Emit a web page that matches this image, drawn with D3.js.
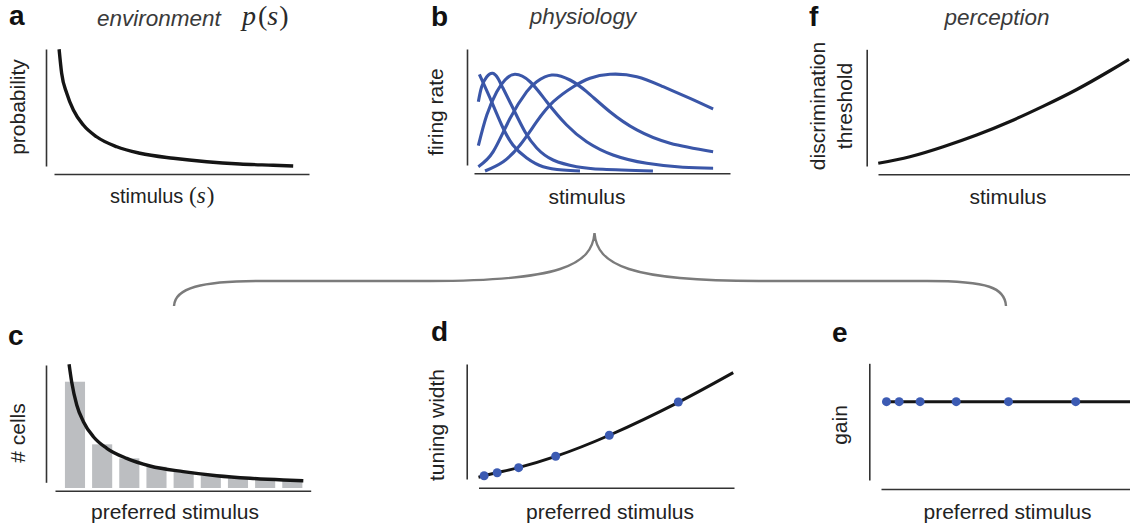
<!DOCTYPE html>
<html>
<head>
<meta charset="utf-8">
<script src="https://cdn.jsdelivr.net/npm/d3@7"></script>
<style>
  html, body { margin: 0; padding: 0; background: #fff; }
  svg { display: block; }
  text { font-family: "Liberation Sans", Arial, Helvetica, sans-serif; }
</style>
</head>
<body>
<div id="chart"></div>
<script>
// ---------------- DATA (0-100 units) ----------------
// panel a: environment prior p(s)
const envCurve = [[2.0,99.8],[3.0,80.6],[5.0,64.6],[7.6,51.2],[11.5,39.2],[16.7,29.8],[24.6,21.8],
  [33.7,16.6],[46.8,12.6],[59.9,9.8],[72.9,8.0],[86.0,7.0],[93.8,6.4]];

// panel b: tuning curves (firing rate vs stimulus)
const tuningCurve1 = [[2.1,79.6],[6.25,60.5],[10.8,38.7],[15.2,22.6],[20.6,12.1],[27.0,5.1],[34.8,2.4],[41.4,1.6]];
const tuningCurve2 = [[1.7,57.5],[3.0,69.6],[5.0,77.7],[7.3,80.4],[9.3,76.5],[11.3,68.5],[15.2,52.4],[19.9,33.3],
  [24.5,20.2],[30.9,10.5],[40.1,5.1],[50.4,3.0],[69.9,1.6]];
const tuningCurve3 = [[1.7,22.0],[5.0,46.8],[8.9,65.6],[12.1,75.0],[16.0,79.6],[21.9,73.6],[28.4,57.5],
  [36.2,38.7],[44.0,25.2],[54.3,14.5],[67.5,7.8],[81.6,4.6],[93.4,3.8]];
const tuningCurve4 = [[1.7,5.1],[7.5,17.2],[14.1,44.1],[20.6,65.6],[24.5,73.6],[30.4,79.0],[37.5,75.0],
  [44.0,65.6],[53.1,49.4],[63.6,34.7],[76.6,24.0],[93.4,17.2]];
const tuningCurve5 = [[4.3,1.6],[11.4,9.1],[18.0,22.6],[24.5,41.4],[31.0,57.5],[38.8,69.6],[45.3,76.4],
  [53.1,79.6],[63.6,77.7],[73.9,69.6],[84.4,60.2],[93.4,51.6]];

// panel f: discrimination threshold
const thresholdCurve = [[0.1,8.6],[12.7,13.8],[26.0,21.8],[39.3,31.2],[52.6,42.0],[65.9,54.3],[79.2,67.6],[92.4,82.6],[100,91.8]];

// panel c: # cells per preferred-stimulus bin
const bins = ["1","2","3","4","5","6","7","8","9"];
const cellCounts = [86.4, 35.5, 24.1, 17.3, 13.3, 10.0, 8.4, 7.1, 5.9];
const densityCurve = [[5.5,100.6],[6.5,86.4],[8.5,67.5],[11.1,53.9],[15.0,41.7],[20.2,32.3],[28.0,24.1],
  [37.1,17.9],[50.1,13.3],[63.2,10.0],[76.2,7.9],[89.2,6.5],[97.0,5.9]];

// panel d: tuning width vs preferred stimulus
const prefStim = [2.2, 7.3, 15.7, 30.2, 51.2, 78.2];
const tuningWidth = [9.7, 12.1, 16.2, 25.4, 42.4, 69.3];
const widthCurve = [[0,8.4],[7.1,12.1],[15.6,16.2],[29.9,25.1],[51.2,42.4],[78.2,69.0],[99.7,93.0]];

// panel e: gain vs preferred stimulus
const gainValue = [69.3, 69.3, 69.3, 69.3, 69.3, 69.3];
const gainLineX = [2.3, 100];

// ---------------- LAYOUT ----------------
const W = 1130, H = 527;
const BLUE = "#3a56a8", DOT = "#3c5bb3", INK = "#151515", AX = "#333";
const SERIF = "'Liberation Serif', 'DejaVu Serif', serif";

const svg = d3.select("#chart").append("svg").attr("width", W).attr("height", H);
svg.append("rect").attr("width", W).attr("height", H).attr("fill", "#fff");

function makePanel(p) {
  const x = d3.scaleLinear().domain([0, 100]).range(p.xr);
  const y = d3.scaleLinear().domain([0, 100]).range(p.yr);
  const g = svg.append("g");
  // axes: lines only, no ticks
  const xa = d3.scaleLinear().range([p.xAxis[0], p.xAxis[1]]);
  const ya = d3.scaleLinear().range([p.yAxis[1], p.yAxis[0]]);
  g.append("g").attr("transform", `translate(0,${p.xAxisY})`)
    .call(d3.axisBottom(xa).tickValues([]).tickSizeOuter(0));
  g.append("g").attr("transform", `translate(${p.yAxisX},0)`)
    .call(d3.axisLeft(ya).tickValues([]).tickSizeOuter(0));
  g.selectAll(".domain").attr("stroke", AX).attr("stroke-width", 1.6);
  return {x, y, g};
}

const line = (P, curve) => d3.line().x(d => P.x(d[0])).y(d => P.y(d[1])).curve(curve || d3.curveMonotoneX);

function panelLetter(t, x, y) {
  svg.append("text").attr("x", x).attr("y", y).text(t)
    .attr("font-size", 28).attr("font-weight", "bold").attr("fill", "#111");
}
function xLabel(t, cx, y, size) {
  return svg.append("text").attr("x", cx).attr("y", y).attr("text-anchor", "middle")
    .attr("font-size", size || 21).attr("fill", "#222").text(t);
}
function yLabel(t, bx, cy, size) {
  return svg.append("text").attr("transform", `translate(${bx},${cy}) rotate(-90)`)
    .attr("text-anchor", "middle").attr("font-size", size || 21).attr("fill", "#222").text(t);
}
function title(t, x, y, anchor) {
  return svg.append("text").attr("x", x).attr("y", y).attr("text-anchor", anchor || "middle")
    .attr("font-size", 22.5).attr("font-style", "italic").attr("fill", "#3a3a3a").text(t);
}

// ---- panel a ----
const A = makePanel({xr:[54,309], yr:[174,49], xAxis:[54,309], xAxisY:174, yAxis:[166,49], yAxisX:46});
A.g.append("path").attr("d", line(A)(envCurve)).attr("fill","none").attr("stroke",INK).attr("stroke-width",3.4);
panelLetter("a", 9, 25);
title("environment", 97, 26, "start");
{
  const ps = svg.append("text").attr("x", 242).attr("y", 25).attr("font-size", 28)
    .attr("fill", "#2a2a2a").style("font-family", SERIF);
  ps.append("tspan").attr("font-style","italic").text("p");
  ps.append("tspan").attr("dx", 2).text("(");
  ps.append("tspan").attr("font-style","italic").text("s");
  ps.append("tspan").attr("dx", 1).text(")");
}
{
  const t = svg.append("text").attr("x", 110).attr("y", 203).attr("fill", "#222");
  t.append("tspan").attr("font-size", 20).text("stimulus");
  t.append("tspan").attr("font-size", 23).style("font-family", SERIF).text("\u00A0(");
  t.append("tspan").attr("font-size", 23).style("font-family", SERIF).attr("font-style","italic").text("s");
  t.append("tspan").attr("font-size", 23).style("font-family", SERIF).attr("dx", 1).text(")");
}
yLabel("probability", 25, 107, 21);

// ---- panel b ----
const B = makePanel({xr:[474,730], yr:[173,49], xAxis:[474,730], xAxisY:173.3, yAxis:[165,49], yAxisX:467});
[tuningCurve1, tuningCurve2, tuningCurve3, tuningCurve4, tuningCurve5].forEach(c => {
  B.g.append("path").attr("d", line(B, d3.curveNatural)(c)).attr("fill","none")
    .attr("stroke",BLUE).attr("stroke-width",3.1).attr("stroke-linecap","butt");
});
panelLetter("b", 431, 26);
title("physiology", 583, 24);
xLabel("stimulus", 587, 204, 21);
yLabel("firing rate", 443, 112, 21);

// ---- panel f ----
const F = makePanel({xr:[878,1129], yr:[174,49], xAxis:[878,1130], xAxisY:174.3, yAxis:[166,49.3], yAxisX:866.7});
F.g.append("path").attr("d", line(F, d3.curveNatural)(thresholdCurve)).attr("fill","none").attr("stroke",INK).attr("stroke-width",3.2);
panelLetter("f", 809, 26);
title("perception", 997, 25);
xLabel("stimulus", 1008, 204, 21);
yLabel("discrimination", 825, 106, 21);
yLabel("threshold", 852, 106, 21);

// ---- brace ----
{
  const bp = d3.path();
  bp.moveTo(174, 306);
  bp.bezierCurveTo(175, 288, 200, 281, 262, 281);
  bp.lineTo(430, 281);
  bp.bezierCurveTo(560, 281, 592, 265, 594.5, 233);
  bp.bezierCurveTo(597, 265, 629, 281, 759, 281);
  bp.lineTo(927, 281);
  bp.bezierCurveTo(989, 281, 1005, 288, 1006, 306);
  svg.append("path").attr("d", bp.toString()).attr("fill","none").attr("stroke","#7b7b7b").attr("stroke-width",2.4);
}

// ---- panel c ----
const C = makePanel({xr:[55,311], yr:[488,365], xAxis:[55,310.7], xAxisY:490.7, yAxis:[482.3,365], yAxisX:46});
const xb = d3.scaleBand().domain(bins).range([61.4, 305.9]).paddingInner(0.26).paddingOuter(0.13);
C.g.selectAll("rect.bar").data(cellCounts).join("rect").attr("class","bar")
  .attr("x", (d,i) => xb(bins[i])).attr("width", xb.bandwidth())
  .attr("y", d => C.y(d)).attr("height", d => C.y(0) - C.y(d)).attr("fill", "#bcbec1");
C.g.append("path").attr("d", line(C)(densityCurve)).attr("fill","none").attr("stroke",INK).attr("stroke-width",3.4);
panelLetter("c", 8, 345);
xLabel("preferred stimulus", 175, 519, 21);
yLabel("# cells", 25, 433, 21);

// ---- panel d ----
const D = makePanel({xr:[478.5,734], yr:[487.7,364], xAxis:[478.5,734], xAxisY:487.7, yAxis:[479,364], yAxisX:466.7});
D.g.append("path").attr("d", line(D, d3.curveNatural)(widthCurve)).attr("fill","none").attr("stroke",INK).attr("stroke-width",3);
D.g.selectAll("circle").data(prefStim).join("circle")
  .attr("cx", d => D.x(d)).attr("cy", (d,i) => D.y(tuningWidth[i])).attr("r", 4.5).attr("fill", DOT);
panelLetter("d", 431, 341);
xLabel("preferred stimulus", 610, 519, 21);
yLabel("tuning width", 444, 425, 21);

// ---- panel e ----
const E = makePanel({xr:[881,1130], yr:[489,363], xAxis:[881,1130], xAxisY:489, yAxis:[480,363.3], yAxisX:869.3});
E.g.append("path").attr("d", d3.line().x(d => E.x(d)).y(E.y(gainValue[0]))(gainLineX))
  .attr("fill","none").attr("stroke",INK).attr("stroke-width",3);
E.g.selectAll("circle").data(prefStim).join("circle")
  .attr("cx", d => E.x(d)).attr("cy", (d,i) => E.y(gainValue[i])).attr("r", 4.5).attr("fill", DOT);
panelLetter("e", 832, 342);
xLabel("preferred stimulus", 1007.5, 519, 21);
yLabel("gain", 847, 425, 21);
</script>
</body>
</html>
